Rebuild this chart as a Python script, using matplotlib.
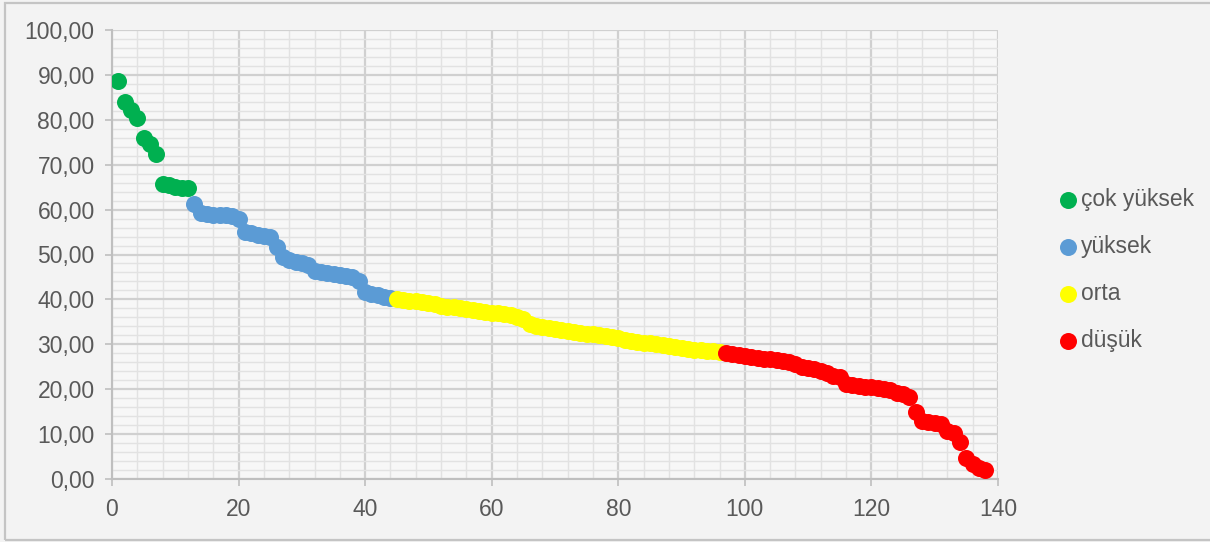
import matplotlib
matplotlib.use("Agg")
import matplotlib.pyplot as plt
from matplotlib.ticker import MultipleLocator, FuncFormatter
from matplotlib.patches import Rectangle

plt.rcParams['font.family'] = ['Liberation Sans', 'DejaVu Sans']

# ---- data ----
cok_yuksek = [88.7, 84.0, 82.2, 80.3, 76.0, 74.7, 72.3, 65.8, 65.4, 65.1, 64.9, 64.7]
yuksek = [61.2, 59.3, 59.0, 58.9, 58.8, 58.7, 58.5, 57.8, 54.9, 54.7, 54.4, 54.1,
          53.8, 51.6, 49.4, 48.8, 48.3, 48.0, 47.6, 46.4, 46.2, 45.9, 45.7, 45.5,
          45.3, 45.1, 44.2, 41.7, 41.2, 40.9, 40.6, 40.3]
orta = [40.0, 39.8, 39.7, 39.6, 39.4, 39.2, 38.9, 38.6, 38.4, 38.2, 38.0, 37.8,
        37.6, 37.4, 37.2, 37.0, 36.9, 36.7, 36.5, 36.0, 35.6, 34.5, 34.0, 33.8,
        33.6, 33.4, 33.2, 33.0, 32.8, 32.6, 32.4, 32.2, 32.0, 31.8, 31.6, 31.3,
        31.0, 30.8, 30.6, 30.4, 30.2, 30.0, 29.8, 29.6, 29.4, 29.2, 29.0, 28.8,
        28.7, 28.5, 28.4, 28.3]
dusuk = [28.0, 27.8, 27.6, 27.4, 27.2, 27.0, 26.8, 26.7, 26.5, 26.3, 26.0, 25.6,
         25.0, 24.7, 24.4, 24.0, 23.5, 23.0, 22.7, 21.2, 21.0, 20.8, 20.6, 20.4,
         20.2, 20.0, 19.8, 19.2, 19.0, 18.2, 15.0, 12.9, 12.7, 12.5, 12.2, 10.8,
         10.3, 8.3, 4.7, 3.3, 2.5, 2.1]

series_names = ["çok yüksek", "yüksek", "orta", "düşük"]
series_values = [cok_yuksek, yuksek, orta, dusuk]
series_colors = ["#00B050", "#5B9BD5", "#FFFF00", "#FF0000"]

x_ticks = [0, 20, 40, 60, 80, 100, 120, 140]
y_ticks = [0, 10, 20, 30, 40, 50, 60, 70, 80, 90, 100]

# ---- figure ----
fig = plt.figure(figsize=(12.10, 5.42), dpi=100)
fig.patch.set_facecolor("#f3f3f3")
ax = fig.add_axes([112/1210, 1 - 479/542, (998-112)/1210, (479-30)/542])
ax.set_facecolor("#f7f7f7")

start = 1
for name, vals, col in zip(series_names, series_values, series_colors):
    xs = list(range(start, start + len(vals)))
    start += len(vals)
    ax.scatter(xs, vals, s=150, color=col, label=name, zorder=3, linewidths=0)

ax.set_xlim(0, 140)
ax.set_ylim(0, 100)
ax.set_xticks(x_ticks)
ax.set_yticks(y_ticks)
ax.xaxis.set_minor_locator(MultipleLocator(4))
ax.yaxis.set_minor_locator(MultipleLocator(2))
ax.yaxis.set_major_formatter(FuncFormatter(lambda v, p: f"{v:.2f}".replace(".", ",")))
ax.xaxis.set_major_formatter(FuncFormatter(lambda v, p: f"{int(v)}"))

ax.grid(which="major", color="#d0d0d0", linewidth=1.6, zorder=0)
ax.grid(which="minor", color="#e2e2e2", linewidth=1.0, zorder=0)
ax.set_axisbelow(True)

for s in ["top", "right"]:
    ax.spines[s].set_visible(False)
for s in ["left", "bottom"]:
    ax.spines[s].set_color("#bfbfbf")
    ax.spines[s].set_linewidth(1.5)

ax.tick_params(which="major", length=5, width=1.2, color="#bfbfbf",
               labelcolor="#595959", labelsize=16.5, pad=7.5)
ax.tick_params(which="minor", length=0)
ax.tick_params(axis="x", pad=9)

leg = ax.legend(loc="center left", bbox_to_anchor=(1045/1210, 1 - 270/542),
                bbox_transform=fig.transFigure, frameon=False, fontsize=16.5,
                labelcolor="#595959", handletextpad=0.05, labelspacing=1.05,
                markerscale=1.0, handlelength=1.0, borderpad=0)

# outer chart border
fig.patches.append(Rectangle((5/1210, 2/542), 1.1, 537/542, transform=fig.transFigure,
                             fill=False, edgecolor="#c4c4c4", linewidth=1.6))

fig.savefig("out.png", dpi=100, facecolor=fig.get_facecolor())
